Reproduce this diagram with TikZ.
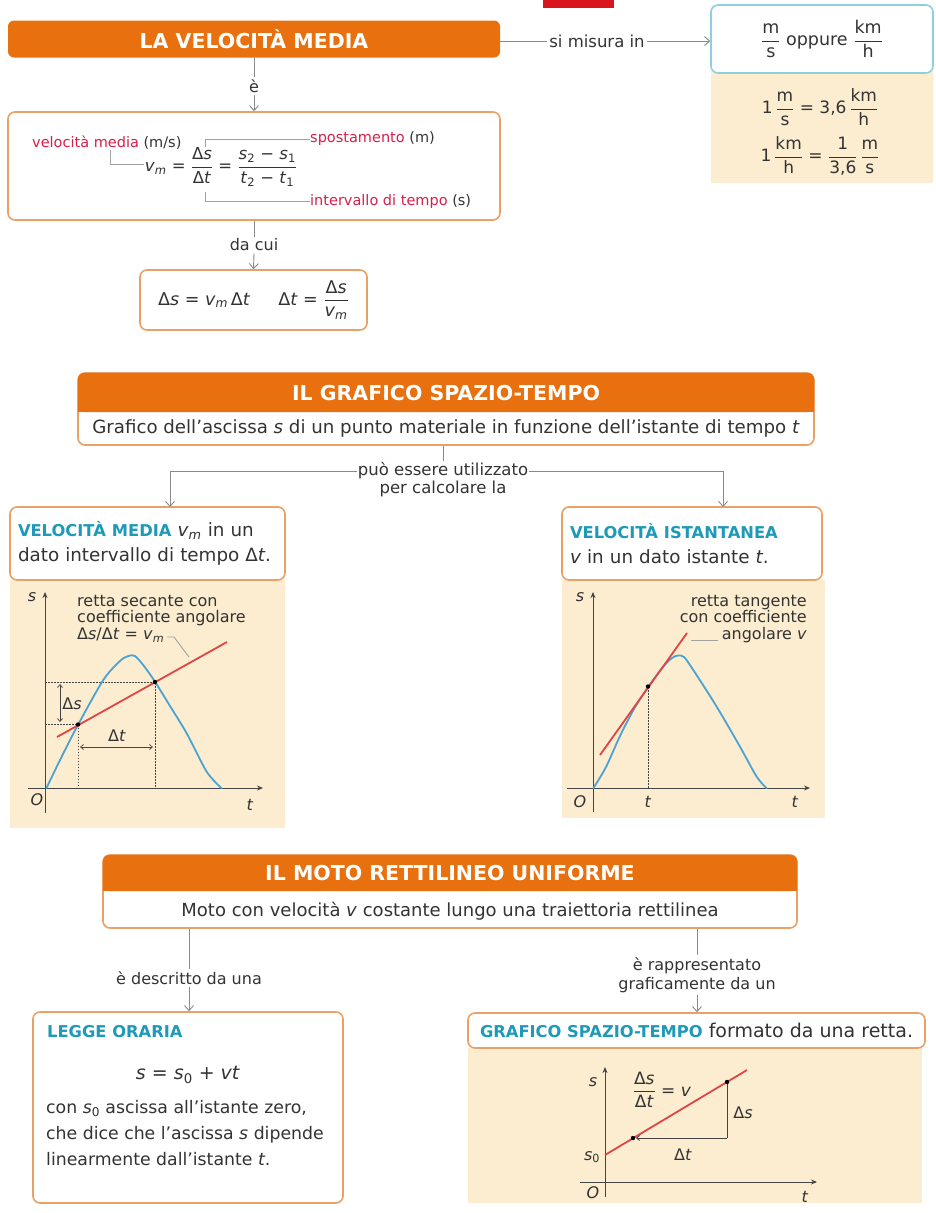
\documentclass[tikz,border=0pt]{standalone}
\usepackage{fontspec}
\usepackage{amsmath}
\setmainfont{DejaVu Sans}
\usetikzlibrary{arrows.meta}
\definecolor{orangeH}{HTML}{E8700E}
\definecolor{oborder}{HTML}{EBA066}
\definecolor{tealt}{HTML}{1E9AB8}
\definecolor{blueb}{HTML}{8DD0DE}
\definecolor{beige}{HTML}{FCEDD0}
\definecolor{curveb}{HTML}{4BA3D3}
\definecolor{redl}{HTML}{E04545}
\definecolor{redt}{HTML}{D81E4B}
\definecolor{connc}{HTML}{8A8A8A}
\definecolor{redbar}{HTML}{D9141E}
\definecolor{txt}{HTML}{333333}
\definecolor{axisc}{HTML}{444444}
\newcommand{\fsz}[2]{\fontsize{#1}{#2}\selectfont}
\newcommand{\fr}[2]{\ensuremath{\dfrac{\text{#1}}{\text{#2}}}}
\newcommand{\vm}{\textit{v}\textsubscript{\textit{m}}}
\newcommand{\ttl}[1]{\textcolor{tealt}{\bfseries\fsz{16.3}{19}#1}}
\begin{document}
\begin{tikzpicture}[x=1pt,y=-1pt,
  every node/.style={font=\fsz{16}{19}, text=txt},
  hdr/.style={fill=orangeH, rounded corners=6pt, text=white, font=\bfseries\fsz{20.5}{24}, inner sep=0pt},
  obox/.style={draw=oborder, line width=1.6pt, rounded corners=7pt, fill=white, inner sep=0pt},
  lbl/.style={font=\fsz{16}{19}, inner sep=2pt},
  cline/.style={draw=connc, line width=0.9pt},
  carrow/.style={cline, -{Straight Barb[length=5pt,width=9pt]}},
  leader/.style={draw=connc!80, line width=0.9pt},
  panel/.style={fill=beige, inner sep=0pt},
  axisl/.style={draw=axisc, line width=1pt, -{Stealth[length=6pt,width=5pt]}},
  curvel/.style={draw=curveb, line width=1.8pt, line cap=round, line join=round},
  redline/.style={draw=redl, line width=1.8pt},
  dotl/.style={draw=axisc, line width=0.7pt, dash pattern=on 1.5pt off 1.5pt},
  dim/.style={draw=axisc, line width=0.7pt, {Straight Barb[length=3pt,width=5pt]}-{Straight Barb[length=3pt,width=5pt]}},
  glbl/.style={font=\fsz{16}{16.5}, inner sep=1pt},
  ]
\useasboundingbox (0,0) rectangle (936,1213);
\fill[white] (0,0) rectangle (936,1213);

% ================= TOP SECTION =================
\fill[redbar] (543,0) rectangle (614,8);
\node[hdr, minimum width=492pt, minimum height=37pt] (velmed) at (254,39) {LA VELOCITÀ MEDIA};
\node[lbl, font=\fsz{16.5}{19}] (simis) at (597,41) {si misura in};
\node[panel, minimum width=222pt, minimum height=112pt] (conv) at (822,127) {};
\node[draw=blueb, line width=1.6pt, rounded corners=7pt, fill=white, minimum width=222pt, minimum height=68pt, inner sep=0pt, font=\fsz{17.5}{20}] (units) at (822,39) {\fr{m}{s} oppure \fr{km}{h}};
\node[font=\fsz{17}{20}] (c1) at (820,107) {1\,\fr{m}{s} = 3,6\,\fr{km}{h}};
\node[font=\fsz{17}{20}] (c2) at (820,156) {1\,\fr{km}{h} = \fr{1}{3,6}\,\fr{m}{s}};
\draw[cline] (simis.west -| velmed.east) -- (simis.west);
\draw[carrow] (simis.east) -- (simis.east -| units.west);

\node[obox, minimum width=492pt, minimum height=108pt] (fbox) at (254,166) {};
\node[lbl] (e1) at (254,86) {è};
\draw[cline] (velmed.south) -- (e1.north);
\draw[carrow] (e1.south) -- (fbox.north);

\node[font=\fsz{14.5}{17}, anchor=west, inner sep=0pt] (vmname) at (32,143) {\textcolor{redt}{velocità media} (m/s)};
\node[inner sep=1pt, font=\fsz{16.5}{19}] (formula) at (221,167) {\vm{} = \fr{Δ\textit{s}}{Δ\textit{t}} = \fr{\textit{s}\textsubscript{2} − \textit{s}\textsubscript{1}}{\textit{t}\textsubscript{2} − \textit{t}\textsubscript{1}}};
\node[font=\fsz{14.5}{17}, anchor=west, inner sep=0pt] (spost) at (310,139) {\textcolor{redt}{spostamento} (m)};
\node[font=\fsz{14.5}{17}, anchor=west, inner sep=0pt] (interv) at (310,201) {\textcolor{redt}{intervallo di tempo} (s)};
\coordinate (lk1) at (110,164);
\coordinate (sp0) at (205,147);
\coordinate (it0) at (205,192);
\draw[leader] (vmname.south -| lk1) -- (lk1) -- (formula.west |- lk1);
\draw[leader] (sp0) |- (spost.west);
\draw[leader] (it0) |- (interv.west);

\node[obox, minimum width=227pt, minimum height=60pt, font=\fsz{17.5}{20}] (dsbox) at (253.5,300) {Δ\textit{s} = \vm\,Δ\textit{t}\hspace{28pt}Δ\textit{t} = \fr{Δ\textit{s}}{\vm}};
\node[lbl] (dacui) at (254,245) {da cui};
\draw[cline] (fbox.south) -- (dacui.north);
\draw[carrow] (dacui.south) -- (dsbox.north);

% ================= MIDDLE SECTION =================
\node[obox, minimum width=736pt, minimum height=72pt] (grafo) at (446,409) {};
\node[hdr, minimum width=736pt, minimum height=39pt] (grafoT) at (446,392.5) {};
\fill[orangeH] (grafoT.south west) rectangle ([yshift=10pt]grafoT.south east);
\node[text=white, font=\bfseries\fsz{20.5}{24}] (grafoTt) at (446,393) {IL GRAFICO SPAZIO-TEMPO};
\node[font=\fsz{18.2}{21}] (grafoD) at (446,428) {Grafico dell’ascissa \textit{s} di un punto materiale in funzione dell’istante di tempo \textit{t}};

\node[panel, minimum width=275pt, minimum height=248pt] (gpanL) at (147.5,704) {};
\node[panel, minimum width=263pt, minimum height=238pt] (gpanR) at (693.5,699) {};

\node[obox, minimum width=275pt, minimum height=73pt, align=left, text width=259pt, font=\fsz{18.3}{25}] (vmbox) at (147.5,543.5) {\ttl{VELOCITÀ MEDIA} \vm{} in un\\dato intervallo di tempo Δ\textit{t}.};
\node[obox, minimum width=260pt, minimum height=73pt, align=left, text width=244pt, font=\fsz{18.3}{25}] (vibox) at (692,543.5) {\ttl{VELOCITÀ ISTANTANEA}\\\textit{v} in un dato istante \textit{t}.};

\node[lbl, inner sep=1pt, font=\fsz{16.5}{19}] (puo1) at (443,471) {può essere utilizzato};
\node[lbl, inner sep=1pt, font=\fsz{16.5}{19}] (puo2) at (443,489) {per calcolare la};
\coordinate (la) at (170,507);
\coordinate (ra) at (723,507);
\draw[cline] (grafo.south -| puo1.north) -- (puo1.north);
\draw[carrow] (puo1.west) -| (la);
\draw[carrow] (puo1.east) -| (ra);

% ---- left graph ----
\draw[dotl] (45,682) -- (155,682) -- (155,788);
\draw[dotl] (45,724.5) -- (78,724.5) -- (78,788);
\draw[axisl] (28,788) -- (263,788);
\draw[axisl] (45,813) -- (45,592);
\draw[curvel] plot[smooth, tension=0.5] coordinates {(46.5,788) (62,756) (78.3,724.3) (103.3,680) (120,661) (128.3,656) (135,656) (144,666) (155,681.7) (170,706) (186.7,733.3) (206.7,771.7) (221.7,788.3)};
\draw[redline] (57,737) -- (227,642);
\fill[black] (78,724.5) circle (2.2pt);
\fill[black] (155,682) circle (2.2pt);
\draw[dim] (60,684) -- (60,722);
\node[glbl] (dsL) at (72,704) {Δ\textit{s}};
\draw[dim] (80,747) -- (153,747);
\node[glbl] (dtL) at (117,736) {Δ\textit{t}};
\node[glbl] (sL) at (32,597) {\textit{s}};
\node[glbl] (oL) at (37,800) {\textit{O}};
\node[glbl] (tL) at (250,805) {\textit{t}};
\node[glbl, anchor=north west, align=left] (secL) at (76,594) {retta secante con\\coefficiente angolare\\Δ\textit{s}/Δ\textit{t} = \vm};
\coordinate (secA) at (167,637);
\coordinate (secB) at (174,637);
\coordinate (secC) at (189,657);
\draw[leader] (secA) -- (secB) -- (secC);

% ---- right graph ----
\draw[dotl] (648,687) -- (648,788);
\draw[axisl] (567,788) -- (810,788);
\draw[axisl] (593,812) -- (593,592);
\draw[curvel] plot[smooth, tension=0.5] coordinates {(593.3,788.3) (606,767) (620,736) (634,709) (648.3,686.7) (663,667) (672,658) (678,655.5) (684,657) (693.3,670) (716.7,706.7) (740,746.7) (756.7,776.7) (766.7,788.3)};
\draw[redline] (600,755) -- (687,633);
\fill[black] (648,686.5) circle (2.2pt);
\node[glbl] (sR) at (580,597) {\textit{s}};
\node[glbl] (oR) at (580,802) {\textit{O}};
\node[glbl] (t1R) at (648,802) {\textit{t}};
\node[glbl] (t2R) at (795,802) {\textit{t}};
\node[glbl, anchor=north east, align=right] (tanR) at (808,594) {retta tangente\\con coefficiente\\angolare \textit{v}};
\coordinate (tanA) at (691,640);
\coordinate (tanB) at (718,640);
\draw[leader] (tanA) -- (tanB);

% ================= BOTTOM SECTION =================
\node[obox, minimum width=694pt, minimum height=73pt] (moto) at (450,891.5) {};
\node[hdr, minimum width=694pt, minimum height=36pt] (motoT) at (450,873) {};
\fill[orangeH] (motoT.south west) rectangle ([yshift=10pt]motoT.south east);
\node[text=white, font=\bfseries\fsz{20.5}{24}] (motoTt) at (450,873) {IL MOTO RETTILINEO UNIFORME};
\node[font=\fsz{18}{21}] (motoD) at (450,911) {Moto con velocità \textit{v} costante lungo una traiettoria rettilinea};

\node[panel, minimum width=454pt, minimum height=155pt] (gpanB) at (695,1125.5) {};
\node[obox, minimum width=310pt, minimum height=191pt] (legge) at (188,1107.5) {};
\node[obox, minimum width=457pt, minimum height=35pt, font=\fsz{19}{22}] (grafB) at (696.5,1030.5) {\ttl{GRAFICO SPAZIO-TEMPO} formato da una retta.};

\node[lbl] (descr) at (189,978) {è descritto da una};
\node[lbl, align=center, font=\fsz{16}{19}] (rappr) at (697,975) {è rappresentato\\graficamente da un};
\draw[cline] (moto.south -| descr.north) -- (descr.north);
\draw[carrow] (descr.south) -- (descr.south |- legge.north);
\draw[cline] (moto.south -| rappr.north) -- (rappr.north);
\draw[carrow] (rappr.south) -- (rappr.south |- grafB.north);

\node[anchor=west, inner sep=0pt] (leggeT) at (47,1032) {\ttl{LEGGE ORARIA}};
\node[font=\fsz{19}{22}] (leggeF) at (188,1075) {\textit{s} = \textit{s}\textsubscript{0} + \textit{vt}};
\node[anchor=north west, align=left, inner sep=0pt, font=\fsz{17.3}{26}] (leggeP) at (46,1100) {con \textit{s}\textsubscript{0} ascissa all’istante zero,\\che dice che l’ascissa \textit{s} dipende\\linearmente dall’istante \textit{t}.};

% ---- bottom graph ----
\draw[axisl] (580,1182) -- (817,1182);
\draw[axisl] (605,1197) -- (605,1067);
\draw[redline] (605,1155) -- (747,1070);
\draw[draw=axisc, line width=0.8pt, -{Straight Barb[length=3pt,width=5pt]}] (727,1138) -- (636,1138);
\draw[draw=axisc, line width=0.8pt] (727,1138) -- (727,1084);
\fill[black] (633,1138) circle (2.2pt);
\fill[black] (727,1082) circle (2.2pt);
\node[glbl] (sB) at (593,1082) {\textit{s}};
\node[glbl] (s0B) at (592,1157) {\textit{s}\textsubscript{0}};
\node[glbl] (oB) at (593,1193) {\textit{O}};
\node[glbl] (tB) at (805,1197) {\textit{t}};
\node[glbl] (dtB) at (683,1155) {Δ\textit{t}};
\node[glbl] (dsB) at (743,1113) {Δ\textit{s}};
\node[glbl, font=\fsz{17}{18}] (frB) at (662,1090) {\fr{Δ\textit{s}}{Δ\textit{t}} = \textit{v}};
\end{tikzpicture}
\end{document}
